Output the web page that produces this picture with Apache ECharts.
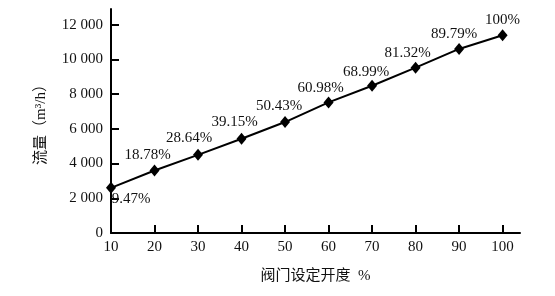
<!DOCTYPE html>
<html><head><meta charset="utf-8">
<script src="https://cdn.jsdelivr.net/npm/echarts@6/dist/echarts.min.js"></script>
<style>html,body{margin:0;padding:0;background:#fff}#c{width:555px;height:296px}</style>
</head><body><div id="c"></div>
<script>
const xValues = [10, 20, 30, 40, 50, 60, 70, 80, 90, 100];
const flowValues = [2600, 3600, 4500, 5430, 6390, 7520, 8480, 9520, 10600, 11390];
const pctLabels = ['9.47%', '18.78%', '28.64%', '39.15%', '50.43%', '60.98%', '68.99%', '81.32%', '89.79%', '100%'];
const xTicks = [10, 20, 30, 40, 50, 60, 70, 80, 90, 100];
const yTicks = [0, 2000, 4000, 6000, 8000, 10000, 12000];

const labelOffsets = [[20, -5], [-7, 1], [-9, 0], [-7, 0], [-6, 1], [-8, 2], [-6, 3], [-8, 2], [-5, 2], [0, 1]];
const labelPositions = ['bottom', 'top', 'top', 'top', 'top', 'top', 'top', 'top', 'top', 'top'];

const font = '"Liberation Serif", "Noto Sans CJK SC", serif';
const data = xValues.map((x, i) => ({
  value: [x, flowValues[i]],
  label: { show: true, formatter: pctLabels[i], position: labelPositions[i], distance: 3, offset: labelOffsets[i] }
}));

const fmt = v => v >= 1000 ? String(Math.floor(v / 1000)) + ' ' + String(v % 1000).padStart(3, '0') : String(v);

const chart = echarts.init(document.getElementById('c'));
chart.setOption({
  animation: false,
  backgroundColor: '#fff',
  grid: { left: 111, right: 35, top: 9, bottom: 63, containLabel: false },
  xAxis: {
    type: 'value', min: 10, max: 104,
    name: '阀门设定开度  %', nameLocation: 'middle', nameGap: 36,
    nameTextStyle: { fontFamily: font, fontSize: 15, color: '#111' },
    axisLine: { show: true, lineStyle: { color: '#000', width: 2 } },
    axisTick: { show: true, inside: true, length: 8, lineStyle: { color: '#000', width: 2 }, customValues: xTicks },
    axisLabel: { color: '#111', fontFamily: font, fontSize: 15, margin: 7, customValues: xTicks },
    splitLine: { show: false }
  },
  yAxis: {
    type: 'value', min: 0, max: 12900,
    name: '流量（m³/h）', nameLocation: 'middle', nameGap: 62,
    nameTextStyle: { fontFamily: font, fontSize: 15, color: '#111' },
    axisLine: { show: true, lineStyle: { color: '#000', width: 2 } },
    axisTick: { show: true, inside: true, length: 8, lineStyle: { color: '#000', width: 2 }, customValues: yTicks },
    axisLabel: { color: '#111', fontFamily: font, fontSize: 15, margin: 8, formatter: fmt, customValues: yTicks },
    splitLine: { show: false }
  },
  series: [{
    type: 'line', data: data,
    symbol: 'diamond', symbolSize: [10, 12],
    lineStyle: { color: '#000', width: 2 },
    itemStyle: { color: '#000' },
    label: { color: '#111', fontFamily: font, fontSize: 15 }
  }]
});
</script></body></html>
